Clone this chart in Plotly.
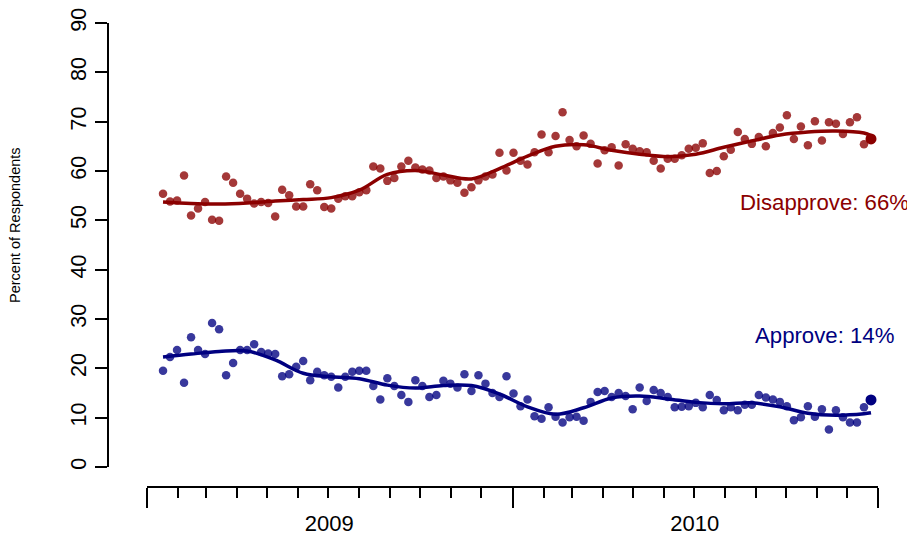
import pandas as pd
import plotly.graph_objects as go

# ---- data (weekly polls) ----
FIRST_POLL = "2009-01-17"
N_WEEKS = 102

DISAPPROVE = [55.4, 53.8, 54.0, 59.1, 51.0, 52.4, 53.7, 50.1, 49.9, 58.9,
              57.6, 55.4, 54.4, 53.4, 53.7, 53.5, 50.8, 56.2, 55.1, 52.8,
              52.8, 57.3, 56.1, 52.7, 52.4, 54.4, 54.9, 54.9, 55.7, 56.1,
              60.9, 60.5, 58.0, 58.6, 60.9, 62.1, 60.7, 60.3, 60.1, 58.6,
              58.9, 58.1, 57.6, 55.6, 56.7, 58.1, 58.9, 59.3, 63.7, 60.1,
              63.7, 62.1, 61.3, 63.8, 67.4, 63.8, 67.1, 71.9, 66.3, 65.0,
              67.2, 65.5, 61.5, 64.2, 64.8, 61.1, 65.4, 64.5, 64.0, 63.8,
              62.1, 60.5, 62.5, 62.5, 63.2, 64.5, 64.7, 65.6, 59.6, 60.0,
              63.0, 64.3, 67.9, 66.5, 65.5, 66.9, 65.0, 67.7, 68.8, 71.3,
              66.5, 69.0, 65.2, 70.1, 66.2, 69.9, 69.6, 67.5, 69.9, 70.9,
              65.4, 66.5]

APPROVE = [19.5, 22.3, 23.7, 17.1, 26.3, 23.7, 22.9, 29.2, 27.9, 18.6,
           21.1, 23.7, 23.7, 24.9, 23.3, 23.0, 22.9, 18.4, 18.8, 20.3,
           21.5, 17.6, 19.3, 18.6, 18.3, 16.1, 18.3, 19.3, 19.5, 19.5,
           16.4, 13.7, 18.0, 16.4, 14.6, 13.2, 17.6, 16.4, 14.2, 14.6,
           17.5, 16.9, 16.1, 18.8, 15.4, 18.6, 16.9, 15.0, 14.2, 18.4,
           14.9, 12.3, 13.7, 10.3, 9.8, 12.1, 10.2, 9.0, 10.1, 10.2,
           9.4, 13.2, 15.2, 15.4, 14.2, 15.0, 14.4, 11.7, 16.1, 13.4,
           15.6, 15.0, 14.2, 12.1, 12.2, 12.3, 13.0, 12.1, 14.6, 13.6,
           11.5, 12.1, 11.5, 12.6, 12.6, 14.6, 14.1, 13.7, 13.2, 12.3,
           9.5, 10.1, 12.3, 10.2, 11.7, 7.6, 11.5, 10.1, 9.0, 9.0,
           12.1, 13.6]

# smoothed trend, read at every 4th week (plus the last week)
TREND_WEEKS = [0, 4, 8, 12, 16, 20, 24, 28, 32, 36, 40, 44, 48, 52,
               56, 60, 64, 68, 72, 76, 80, 84, 88, 92, 96, 100, 101]
DISAPPROVE_TREND = [53.7, 53.4, 53.3, 53.5, 53.9, 54.2, 54.6, 56.1, 59.3,
                    60.1, 59.2, 58.4, 60.5, 63.0, 65.0, 65.3, 64.2, 63.4,
                    62.9, 63.4, 64.8, 66.1, 67.3, 67.9, 68.1, 67.7, 67.2]
APPROVE_TREND = [22.3, 22.9, 23.4, 23.5, 21.7, 19.0, 18.3, 17.9, 16.6,
                 16.0, 16.5, 16.5, 14.8, 12.2, 10.7, 12.0, 14.0, 14.4,
                 13.8, 13.1, 12.8, 13.0, 12.2, 10.9, 10.5, 10.8, 11.0]

YEAR_TICKS = ["2009-01-01", "2010-01-01", "2011-01-01"]
YEAR_LABEL_POS = ["2009-07-02", "2010-07-02"]
YEAR_LABELS = ["2009", "2010"]
Y_TICKS = list(range(0, 91, 10))

LABEL_DIS = "Disapprove: 66%"
LABEL_APP = "Approve: 14%"
Y_TITLE = "Percent of Respondents"

RED = "#8B0000"
BLUE = "#000080"
FONT = "Liberation Sans, Arial, Helvetica, sans-serif"

dates = pd.date_range(FIRST_POLL, periods=N_WEEKS, freq="7D")
trend_dates = dates[TREND_WEEKS]

fig = go.Figure()

for vals, trend, col in [(DISAPPROVE, DISAPPROVE_TREND, RED),
                         (APPROVE, APPROVE_TREND, BLUE)]:
    fig.add_trace(go.Scatter(x=dates[:-1], y=vals[:-1], mode="markers",
                             marker=dict(color=col, size=8.5, opacity=0.78,
                                         line=dict(width=0)),
                             showlegend=False, hoverinfo="skip"))
    fig.add_trace(go.Scatter(x=trend_dates, y=trend, mode="lines",
                             line=dict(color=col, width=3.5, shape="spline",
                                       smoothing=1.0),
                             showlegend=False, hoverinfo="skip"))
    fig.add_trace(go.Scatter(x=dates[-1:], y=vals[-1:], mode="markers",
                             marker=dict(color=col, size=11, line=dict(width=0)),
                             showlegend=False, hoverinfo="skip"))

# invisible trace to carry the year-label axis
fig.add_trace(go.Scatter(x=[YEAR_LABEL_POS[0]], y=[None], xaxis="x2",
                         mode="markers", showlegend=False, hoverinfo="skip"))

# the page body adds an 8px offset; the figure is sized to fit the window
fig.update_layout(
    width=907, height=532,
    margin=dict(l=100, r=37, t=15, b=53, autoexpand=False),
    paper_bgcolor="white", plot_bgcolor="white",
    font=dict(family=FONT, color="black", size=22),
    xaxis=dict(
        domain=[39 / 770, 1.0],
        range=[YEAR_TICKS[0], YEAR_TICKS[-1]],
        type="date", automargin=False,
        anchor="free", position=0,
        showline=True, linecolor="black", linewidth=2,
        tickmode="array", tickvals=YEAR_TICKS, showticklabels=False,
        ticks="outside", ticklen=20, tickwidth=2, tickcolor="black",
        minor=dict(ticks="outside", ticklen=10, tickwidth=2,
                   tickcolor="black", dtick="M1", tick0="2009-01-01"),
        showgrid=False, zeroline=False,
    ),
    xaxis2=dict(
        domain=[39 / 770, 1.0],
        range=[YEAR_TICKS[0], YEAR_TICKS[-1]],
        type="date", automargin=False,
        overlaying="x", anchor="free", position=0,
        showline=False,
        tickmode="array", tickvals=YEAR_LABEL_POS, ticktext=YEAR_LABELS,
        ticks="outside", ticklen=17, tickcolor="rgba(0,0,0,0)",
        tickfont=dict(size=22), ticklabeloverflow="allow",
        showgrid=False, zeroline=False,
    ),
    yaxis=dict(
        domain=[20 / 464, 1.0],
        range=[0, 90], automargin=False,
        anchor="free", position=0,
        showline=True, linecolor="black", linewidth=2,
        tickmode="array", tickvals=Y_TICKS,
        ticks="outside", ticklen=12, tickwidth=2, tickcolor="black",
        tickangle=-90, tickfont=dict(size=21.5), ticklabeloverflow="allow",
        showgrid=False, zeroline=False,
    ),
    annotations=[
        dict(text=Y_TITLE, xref="paper", yref="paper",
             x=(15 - 108) / 770, y=(487 - 225) / 464,
             textangle=-90, showarrow=False, font=dict(size=14.5),
             xanchor="center", yanchor="middle"),
        dict(text=LABEL_DIS, xref="x", yref="y", x="2010-11-09", y=53.7,
             showarrow=False, font=dict(size=22.2, color=RED),
             xanchor="center", yanchor="middle"),
        dict(text=LABEL_APP, xref="x", yref="y", x="2010-11-09", y=26.7,
             showarrow=False, font=dict(size=22.2, color=BLUE),
             xanchor="center", yanchor="middle"),
    ],
)

fig.write_html("out.html")
